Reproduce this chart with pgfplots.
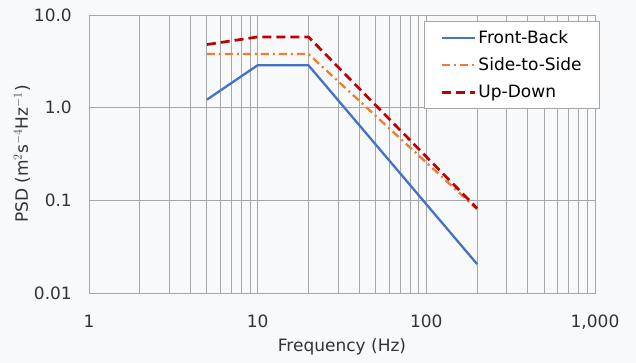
\documentclass[border=0pt]{standalone}
\usepackage{pgfplots}
\pgfplotsset{compat=1.18}
\usepackage{fontspec}
\setmainfont{DejaVu Sans}
\definecolor{fb}{HTML}{4472C4}
\definecolor{ss}{HTML}{ED7D31}
\definecolor{ud}{HTML}{C00000}
\definecolor{bg}{HTML}{F8F9FB}
\definecolor{gridc}{HTML}{A6A6A6}
\begin{document}
\begin{tikzpicture}
\fill[bg] (-89pt,-70pt) rectangle (547pt,293pt);
\useasboundingbox (-89pt,-70pt) rectangle (547pt,293pt);
\begin{axis}[
  at={(0pt,0pt)}, anchor=south west,
  scale only axis, width=506pt, height=278pt,
  xmode=log, ymode=log,
  xmin=1, xmax=1000, ymin=0.01, ymax=10,
  xtick={1,10,100,1000}, xticklabels={1,10,100,{1,000}},
  ytick={0.01,0.1,1,10}, yticklabels={0.01,0.1,1.0,10.0},
  minor xtick={2,3,4,5,6,7,8,9,20,30,40,50,60,70,80,90,200,300,400,500,600,700,800,900},
  minor ytick={},
  xmajorgrids, xminorgrids, ymajorgrids,
  grid style={gridc, line width=0.8pt},
  minor grid style={gridc, line width=0.8pt},
  axis line style={gridc, line width=0.8pt},
  major tick length=0pt, minor tick length=0pt,
  tick label style={font=\fontsize{17}{19}\selectfont, text=black!80, inner sep=0pt},
  xticklabel style={anchor=north, yshift=-22pt},
  yticklabel style={anchor=east, xshift=-17pt},
  xlabel={Frequency (Hz)}, ylabel={PSD (m$^2$s$^{-4}$Hz$^{-1}$)},
  label style={font=\fontsize{17}{19}\selectfont, text=black!80},
  xlabel style={at={(axis description cs:0.5,0)}, anchor=center, yshift=-54pt},
  ylabel style={at={(axis description cs:0,0.5)}, anchor=center, yshift=67pt},
  legend style={at={(1.01,0.978)}, anchor=north east, draw=gridc, line width=0.8pt, fill=white,
    font=\fontsize{17}{19}\selectfont, row sep=9pt, inner xsep=16pt, inner ysep=7pt,
    nodes={inner sep=2pt}},
  legend cell align=left,
  legend image code/.code={\draw[#1] (0pt,0pt) -- (33pt,0pt);},
]
\addplot[fb, line width=2.3pt] coordinates {(5,1.22) (10,2.87) (20,2.87) (200,0.0205)};
\addlegendentry{Front-Back}
\addplot[ss, line width=2.3pt, dash pattern=on 8pt off 4pt on 2pt off 4pt] coordinates {(5,3.8) (10,3.8) (20,3.8) (200,0.08)};
\addlegendentry{Side-to-Side}
\addplot[ud, line width=2.7pt, dash pattern=on 9pt off 5pt] coordinates {(5,4.8) (10,5.8) (20,5.8) (200,0.082)};
\addlegendentry{Up-Down}
\end{axis}
\end{tikzpicture}
\end{document}
